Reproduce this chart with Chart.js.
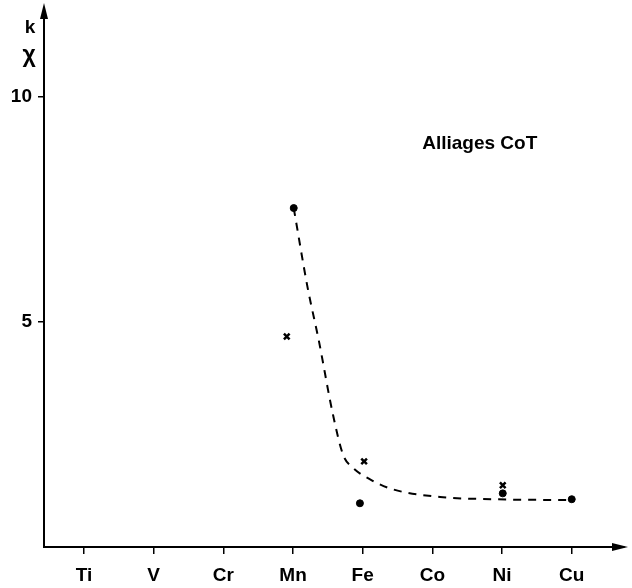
<!DOCTYPE html>
<html>
<head>
<meta charset="utf-8">
<script src="https://cdn.jsdelivr.net/npm/chart.js@4"></script>
<style>
  html, body { margin: 0; padding: 0; background: #fff; }
  #wrap { width: 632px; height: 588px; }
</style>
</head>
<body>
<div id="wrap"><canvas id="myChart"></canvas></div>
<script>
// categories along the x axis (index = position)
const elements = ['Ti', 'V', 'Cr', 'Mn', 'Fe', 'Co', 'Ni', 'Cu'];

// measured points (x = element index, small offsets as drawn)
const dotX = [3.01, 3.96, 6.01, 7.0];
const dotY = [7.52, 0.97, 1.19, 1.06];
const crossX = [2.91, 4.02, 6.01];
const crossY = [4.67, 1.90, 1.37];

// dashed guide curve
const curveX = [3.01, 3.21, 3.37, 3.57, 3.72, 3.85, 4.13, 4.43, 5.11, 5.87, 6.97];
const curveY = [7.52, 5.75, 4.58, 2.96, 2.04, 1.77, 1.48, 1.28, 1.11, 1.06, 1.04];

const yTicks = [5, 10];
const FONT = '"Liberation Sans", "DejaVu Sans", sans-serif';

const toXY = (xs, ys) => xs.map((x, i) => ({ x: x, y: ys[i] }));

// arrows on the axes + text labels
const decorations = {
  id: 'decorations',
  afterDraw(chart) {
    const ctx = chart.ctx;
    const a = chart.chartArea;
    ctx.save();
    ctx.fillStyle = '#000';
    // y arrow
    ctx.beginPath();
    ctx.moveTo(a.left, 3);
    ctx.lineTo(a.left - 4, 19);
    ctx.lineTo(a.left + 4, 19);
    ctx.closePath();
    ctx.fill();
    // x arrow
    ctx.beginPath();
    ctx.moveTo(a.right + 4, a.bottom);
    ctx.lineTo(a.right - 12, a.bottom - 4);
    ctx.lineTo(a.right - 12, a.bottom + 4);
    ctx.closePath();
    ctx.fill();

    ctx.textAlign = 'center';
    ctx.textBaseline = 'middle';
    ctx.font = 'bold 19px ' + FONT;
    ctx.fillText('k', 30, 28);
    ctx.font = 'bold 23px ' + FONT;
    ctx.fillText('χ', 29, 56);

    const sx = chart.scales.x, sy = chart.scales.y;
    ctx.font = 'bold 19px ' + FONT;
    ctx.fillText('Alliages CoT', sx.getPixelForValue(5.68), sy.getPixelForValue(8.94));
    ctx.restore();
  }
};

const config = {
  type: 'scatter',
  data: {
    datasets: [
      {
        label: 'curve',
        data: toXY(curveX, curveY),
        showLine: true,
        borderColor: '#000',
        borderWidth: 2,
        borderDash: [8, 7],
        cubicInterpolationMode: 'monotone',
        pointRadius: 0
      },
      {
        label: 'dots',
        data: toXY(dotX, dotY),
        pointStyle: 'circle',
        pointRadius: 3.5,
        backgroundColor: '#000',
        borderColor: '#000'
      },
      {
        label: 'crosses',
        data: toXY(crossX, crossY),
        pointStyle: 'crossRot',
        pointRadius: 4,
        borderWidth: 2.5,
        borderColor: '#000'
      }
    ]
  },
  options: {
    responsive: true,
    maintainAspectRatio: false,
    animation: false,
    layout: { padding: { top: 5, right: 8, left: 0, bottom: 0 } },
    plugins: {
      legend: { display: false },
      tooltip: { enabled: false }
    },
    scales: {
      x: {
        type: 'linear',
        min: -0.574,
        max: 7.75,
        afterBuildTicks: (scale) => { scale.ticks = elements.map((e, i) => ({ value: i })); },
        afterFit: (scale) => { scale.height = 41; },
        ticks: {
          color: '#000',
          font: { family: FONT, size: 19, weight: 'bold' },
          padding: 10,
          maxRotation: 0,
          autoSkip: false,
          callback: (v) => elements[v]
        },
        grid: { drawOnChartArea: false, color: '#000', lineWidth: 1.5, tickLength: 7 },
        border: { color: '#000', width: 2 }
      },
      y: {
        min: 0,
        max: 11.75,
        afterBuildTicks: (scale) => { scale.ticks = yTicks.map((v) => ({ value: v })); },
        afterFit: (scale) => { scale.width = 44; },
        ticks: {
          color: '#000',
          font: { family: FONT, size: 19, weight: 'bold' },
          padding: 6
        },
        grid: { drawOnChartArea: false, color: '#000', lineWidth: 1.5, tickLength: 6 },
        border: { color: '#000', width: 2 }
      }
    }
  },
  plugins: [decorations]
};

const myChart = new Chart(document.getElementById('myChart'), config);
</script>
</body>
</html>
